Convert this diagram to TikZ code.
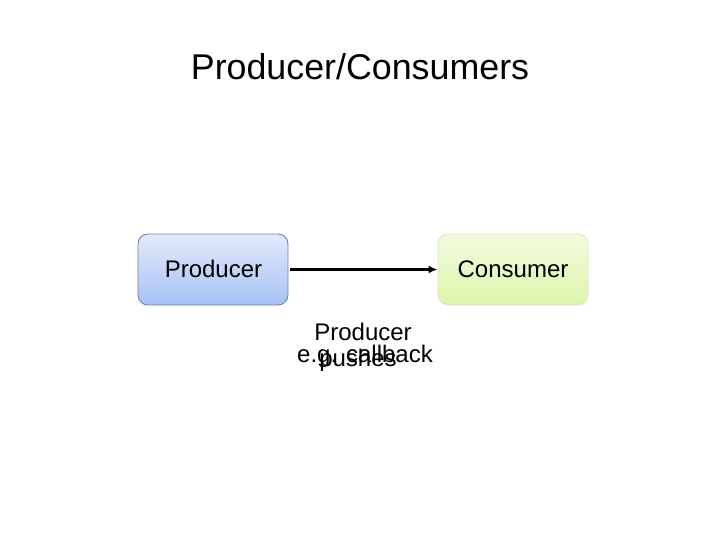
\documentclass[tikz,border=0pt]{standalone}
\usepackage{fontspec}
\setmainfont{Liberation Sans}
\usetikzlibrary{arrows.meta}
\definecolor{ptop}{HTML}{E2EAFB}
\definecolor{pbot}{HTML}{A6C2F4}
\definecolor{pbrd}{HTML}{7084A6}
\definecolor{ctop}{HTML}{F3FCDF}
\definecolor{cbot}{HTML}{DDF4AC}
\definecolor{cbrd}{HTML}{D6EEB4}
\begin{document}
\begin{tikzpicture}[x=1bp,y=-1bp,
  txt/.style={inner sep=0pt, anchor=base, font=\fontsize{24bp}{28bp}\selectfont},
  prodbox/.style={draw=pbrd, line width=0.9bp, rounded corners=10bp, top color=ptop, bottom color=pbot, minimum width=150bp, minimum height=71bp, inner sep=0pt},
  consbox/.style={draw=cbrd, line width=0.9bp, rounded corners=10bp, top color=ctop, bottom color=cbot, minimum width=150bp, minimum height=71bp, inner sep=0pt},
  conn/.style={-{Latex[length=9bp,width=8bp]}, line width=2.2bp}]
\useasboundingbox (0,0) rectangle (720,540);
\node[txt, font=\fontsize{35.8bp}{40bp}\selectfont] (title) at (360,80) {Producer/Consumers};
\node[prodbox] (p) at (213,269.5) {};
\node[consbox] (c) at (513,269.5) {};
\node[txt] (pl) at (213.5,278) {Producer};
\node[txt] (cl) at (513,278) {Consumer};
\draw[conn] (p.east) ++(2,0) coordinate (ps) (ps) -- (c.west);
\node[txt] (l1) at (363,340) {Producer};
\node[txt] (l2) at (365,362) {e.g. callback};
\node[txt] (l3) at (358,366) {pushes};
\end{tikzpicture}
\end{document}
